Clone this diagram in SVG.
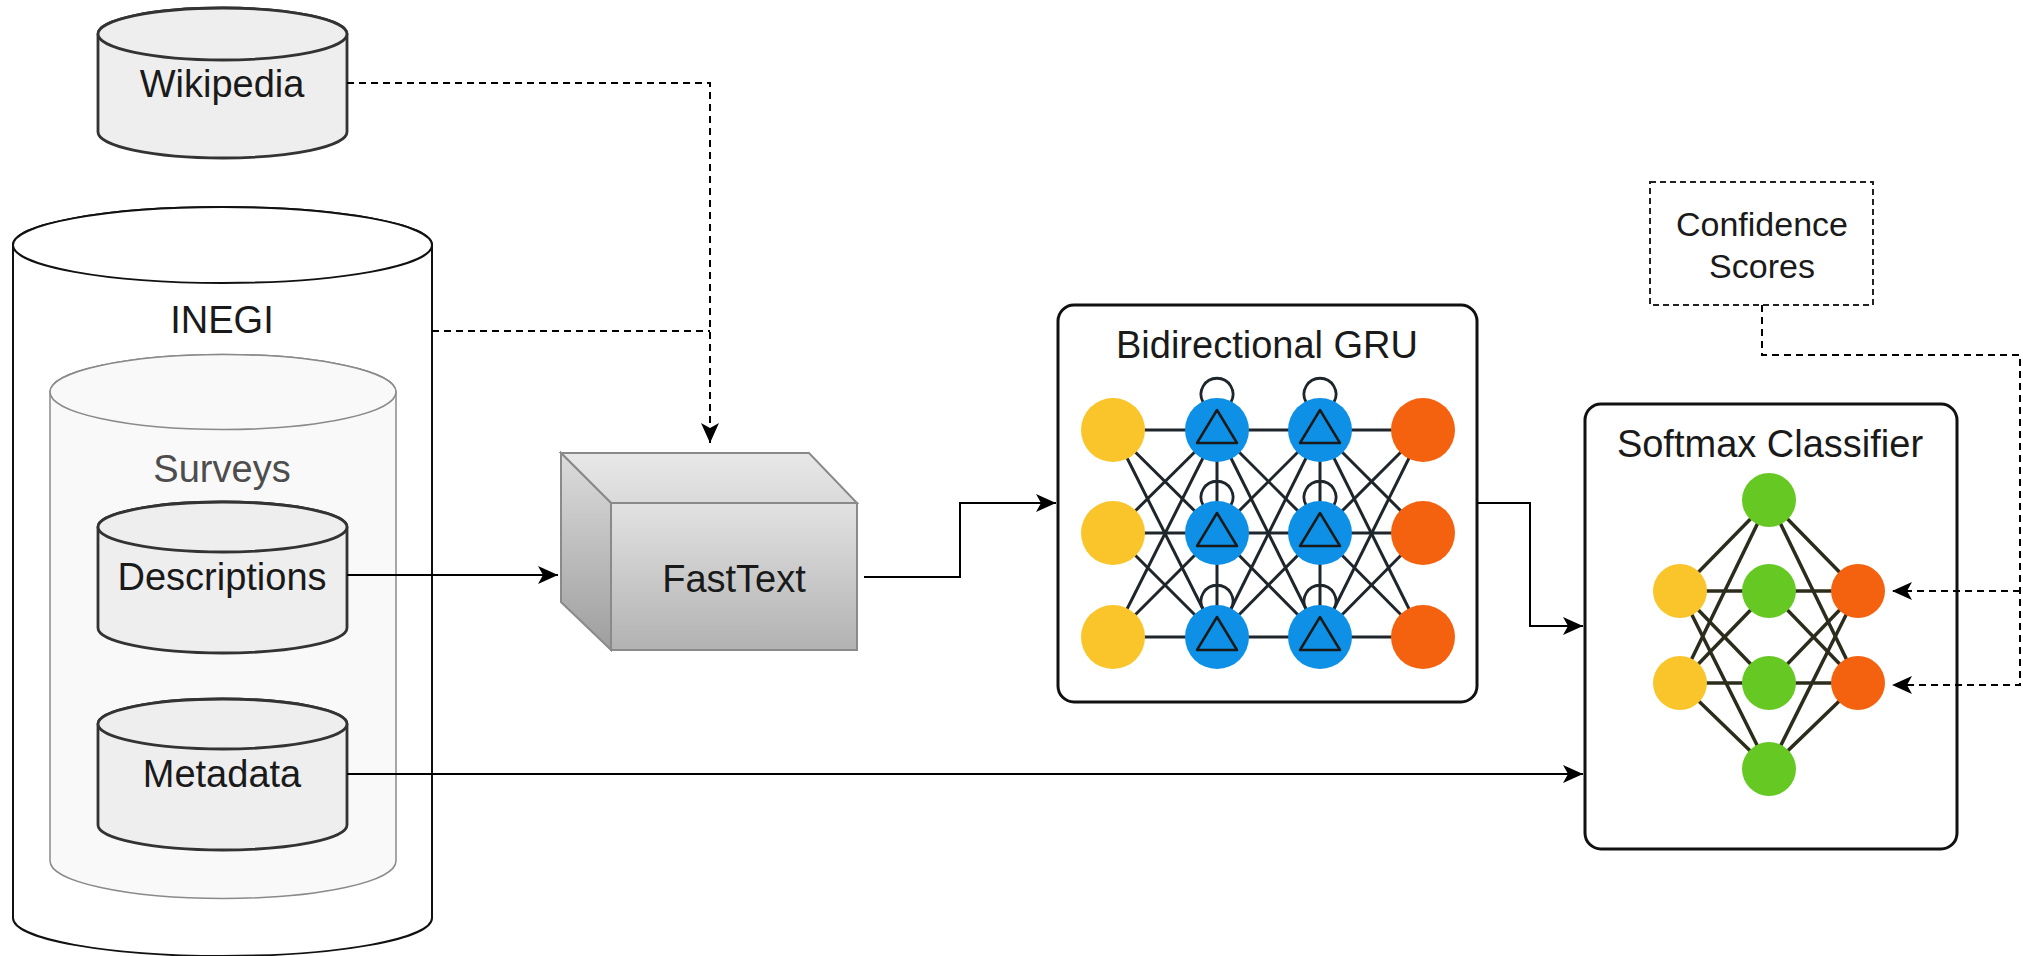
<svg xmlns="http://www.w3.org/2000/svg" width="2023" height="956" viewBox="0 0 2023 956">
<style>
text{font-family:"Liberation Sans",Arial,sans-serif;fill:#1a1a1a;text-anchor:middle}
.lbl{font-size:38px}
.db{fill:#eeeeee;stroke:#333;stroke-width:2.8}
.conn{fill:none;stroke:#000;stroke-width:2}
.dash{stroke-dasharray:7 5}
.gl{stroke:#1f262b;stroke-width:3}
.sl{stroke:#2c2c1c;stroke-width:3.5}
.yel{fill:#f9c52a}
.org{fill:#f5620f}
.blu{fill:#0d90e6}
.grn{fill:#66c823}
.tri{fill:#0d90e6;stroke:#1a1a1a;stroke-width:2.5;stroke-linejoin:round}
.loop{fill:none;stroke:#1f262b;stroke-width:2.8}
.box{fill:#fff;stroke:#111;stroke-width:3}
</style>
<defs>
<marker id="arr" markerUnits="userSpaceOnUse" markerWidth="22" markerHeight="20" refX="20" refY="9" orient="auto">
<path d="M0,0 L20,9 L0,18 L5,9 Z" fill="#000"/>
</marker>
<linearGradient id="gFront" x1="0" y1="0" x2="0" y2="1"><stop offset="0" stop-color="#e2e2e2"/><stop offset="1" stop-color="#b2b2b2"/></linearGradient>
<linearGradient id="gTop" x1="0" y1="0" x2="0" y2="1"><stop offset="0" stop-color="#e8e8e8"/><stop offset="1" stop-color="#dadada"/></linearGradient>
<linearGradient id="gLeft" x1="0" y1="0" x2="0" y2="1"><stop offset="0" stop-color="#dcdcdc"/><stop offset="1" stop-color="#9e9e9e"/></linearGradient>
</defs>

<g id="inegi">
<path d="M13,245 A209.5,38 0 0 1 432,245 L432,918 A209.5,38 0 0 1 13,918 Z" fill="#fff" stroke="#111" stroke-width="2"/>
<ellipse cx="222.5" cy="245" rx="209.5" ry="38" fill="#fff" stroke="#111" stroke-width="2"/>
<text class="lbl" x="222" y="333">INEGI</text>
</g>

<g id="surveys">
<path d="M50,392 A173,37.5 0 0 1 396,392 L396,861 A173,37.5 0 0 1 50,861 Z" fill="#f9f9f9" stroke="#8a8a8a" stroke-width="1.5"/>
<ellipse cx="223" cy="392" rx="173" ry="37.5" fill="#f9f9f9" stroke="#8a8a8a" stroke-width="1.5"/>
<text class="lbl" x="222" y="482" style="fill:#4d4d4d">Surveys</text>
</g>

<g id="wikipedia">
<path class="db" d="M98,34 A124.5,26 0 0 1 347,34 L347,132 A124.5,26 0 0 1 98,132 Z"/>
<ellipse class="db" cx="222.5" cy="34" rx="124.5" ry="26"/>
<text class="lbl" x="222" y="97">Wikipedia</text>
</g>

<g id="descriptions">
<path class="db" d="M98,527 A124.5,25 0 0 1 347,527 L347,628 A124.5,25 0 0 1 98,628 Z"/>
<ellipse class="db" cx="222.5" cy="527" rx="124.5" ry="25"/>
<text class="lbl" x="222" y="590">Descriptions</text>
</g>

<g id="metadata">
<path class="db" d="M98,724 A124.5,25 0 0 1 347,724 L347,825 A124.5,25 0 0 1 98,825 Z"/>
<ellipse class="db" cx="222.5" cy="724" rx="124.5" ry="25"/>
<text class="lbl" x="222" y="787">Metadata</text>
</g>

<g id="fasttext" stroke="#8a8a8a" stroke-width="2" stroke-linejoin="miter">
<polygon points="561,453 809,453 857,503 611,503" fill="url(#gTop)"/>
<polygon points="561,453 611,503 611,650 561,602" fill="url(#gLeft)"/>
<rect x="611" y="503" width="246" height="147" fill="url(#gFront)"/>
<text class="lbl" x="734" y="592" stroke="none">FastText</text>
</g>

<g id="gru">
<rect class="box" x="1058" y="305" width="419" height="397" rx="16"/>
<text class="lbl" x="1267" y="358">Bidirectional GRU</text>
<g class="gl">
<line x1="1113" y1="430" x2="1217" y2="430"/><line x1="1113" y1="430" x2="1217" y2="533"/><line x1="1113" y1="430" x2="1217" y2="637"/>
<line x1="1113" y1="533" x2="1217" y2="430"/><line x1="1113" y1="533" x2="1217" y2="533"/><line x1="1113" y1="533" x2="1217" y2="637"/>
<line x1="1113" y1="637" x2="1217" y2="430"/><line x1="1113" y1="637" x2="1217" y2="533"/><line x1="1113" y1="637" x2="1217" y2="637"/>
<line x1="1217" y1="430" x2="1320" y2="430"/><line x1="1217" y1="430" x2="1320" y2="533"/><line x1="1217" y1="430" x2="1320" y2="637"/>
<line x1="1217" y1="533" x2="1320" y2="430"/><line x1="1217" y1="533" x2="1320" y2="533"/><line x1="1217" y1="533" x2="1320" y2="637"/>
<line x1="1217" y1="637" x2="1320" y2="430"/><line x1="1217" y1="637" x2="1320" y2="533"/><line x1="1217" y1="637" x2="1320" y2="637"/>
<line x1="1320" y1="430" x2="1423" y2="430"/><line x1="1320" y1="430" x2="1423" y2="533"/><line x1="1320" y1="430" x2="1423" y2="637"/>
<line x1="1320" y1="533" x2="1423" y2="430"/><line x1="1320" y1="533" x2="1423" y2="533"/><line x1="1320" y1="533" x2="1423" y2="637"/>
<line x1="1320" y1="637" x2="1423" y2="430"/><line x1="1320" y1="637" x2="1423" y2="533"/><line x1="1320" y1="637" x2="1423" y2="637"/>
<line x1="1217" y1="430" x2="1217" y2="637"/><line x1="1320" y1="430" x2="1320" y2="637"/>
</g>
<g class="loop">
<path d="M1203,402 A16,16 0 1 1 1231,402"/>
<path d="M1306,402 A16,16 0 1 1 1334,402"/>
<path d="M1203,505 A16,16 0 1 1 1231,505"/>
<path d="M1306,505 A16,16 0 1 1 1334,505"/>
<path d="M1203,609 A16,16 0 1 1 1231,609"/>
<path d="M1306,609 A16,16 0 1 1 1334,609"/>
</g>
<circle class="yel" cx="1113" cy="430" r="32"/><circle class="yel" cx="1113" cy="533" r="32"/><circle class="yel" cx="1113" cy="637" r="32"/>
<circle class="blu" cx="1217" cy="430" r="32"/><circle class="blu" cx="1217" cy="533" r="32"/><circle class="blu" cx="1217" cy="637" r="32"/>
<circle class="blu" cx="1320" cy="430" r="32"/><circle class="blu" cx="1320" cy="533" r="32"/><circle class="blu" cx="1320" cy="637" r="32"/>
<circle class="org" cx="1423" cy="430" r="32"/><circle class="org" cx="1423" cy="533" r="32"/><circle class="org" cx="1423" cy="637" r="32"/>
<polygon class="tri" points="1217,410 1197,443 1237,443"/>
<polygon class="tri" points="1217,513 1197,546 1237,546"/>
<polygon class="tri" points="1217,617 1197,650 1237,650"/>
<polygon class="tri" points="1320,410 1300,443 1340,443"/>
<polygon class="tri" points="1320,513 1300,546 1340,546"/>
<polygon class="tri" points="1320,617 1300,650 1340,650"/>
</g>

<g id="softmax">
<rect class="box" x="1585" y="404" width="372" height="445" rx="16"/>
<text class="lbl" x="1770" y="457">Softmax Classifier</text>
<g class="sl">
<line x1="1680" y1="591" x2="1769" y2="500"/><line x1="1680" y1="591" x2="1769" y2="591"/><line x1="1680" y1="591" x2="1769" y2="683"/><line x1="1680" y1="591" x2="1769" y2="769"/>
<line x1="1680" y1="683" x2="1769" y2="500"/><line x1="1680" y1="683" x2="1769" y2="591"/><line x1="1680" y1="683" x2="1769" y2="683"/><line x1="1680" y1="683" x2="1769" y2="769"/>
<line x1="1858" y1="591" x2="1769" y2="500"/><line x1="1858" y1="591" x2="1769" y2="591"/><line x1="1858" y1="591" x2="1769" y2="683"/><line x1="1858" y1="591" x2="1769" y2="769"/>
<line x1="1858" y1="683" x2="1769" y2="500"/><line x1="1858" y1="683" x2="1769" y2="591"/><line x1="1858" y1="683" x2="1769" y2="683"/><line x1="1858" y1="683" x2="1769" y2="769"/>
</g>
<circle class="grn" cx="1769" cy="500" r="27"/>
<circle class="yel" cx="1680" cy="591" r="27"/><circle class="grn" cx="1769" cy="591" r="27"/><circle class="org" cx="1858" cy="591" r="27"/>
<circle class="yel" cx="1680" cy="683" r="27"/><circle class="grn" cx="1769" cy="683" r="27"/><circle class="org" cx="1858" cy="683" r="27"/>
<circle class="grn" cx="1769" cy="769" r="27"/>
</g>

<g id="confidence">
<rect x="1650" y="182" width="223" height="123" fill="#fff" stroke="#222" stroke-width="2" stroke-dasharray="6 4"/>
<text x="1762" y="236" font-size="34">Confidence</text>
<text x="1762" y="278" font-size="34">Scores</text>
</g>

<g id="connectors">
<path class="conn dash" d="M347,83 H710 V443" marker-end="url(#arr)"/>
<path class="conn dash" d="M432,331 H710"/>
<path class="conn" d="M347,575 H558" marker-end="url(#arr)"/>
<path class="conn" d="M864,577 H960 V503 H1056" marker-end="url(#arr)"/>
<path class="conn" d="M1477,503 H1530 V626 H1583" marker-end="url(#arr)"/>
<path class="conn" d="M347,774 H1583" marker-end="url(#arr)"/>
<path class="conn dash" d="M1762,305 V355 H2020 V685 H1892" marker-end="url(#arr)"/>
<path class="conn dash" d="M2020,591 H1892" marker-end="url(#arr)"/>
</g>
</svg>
